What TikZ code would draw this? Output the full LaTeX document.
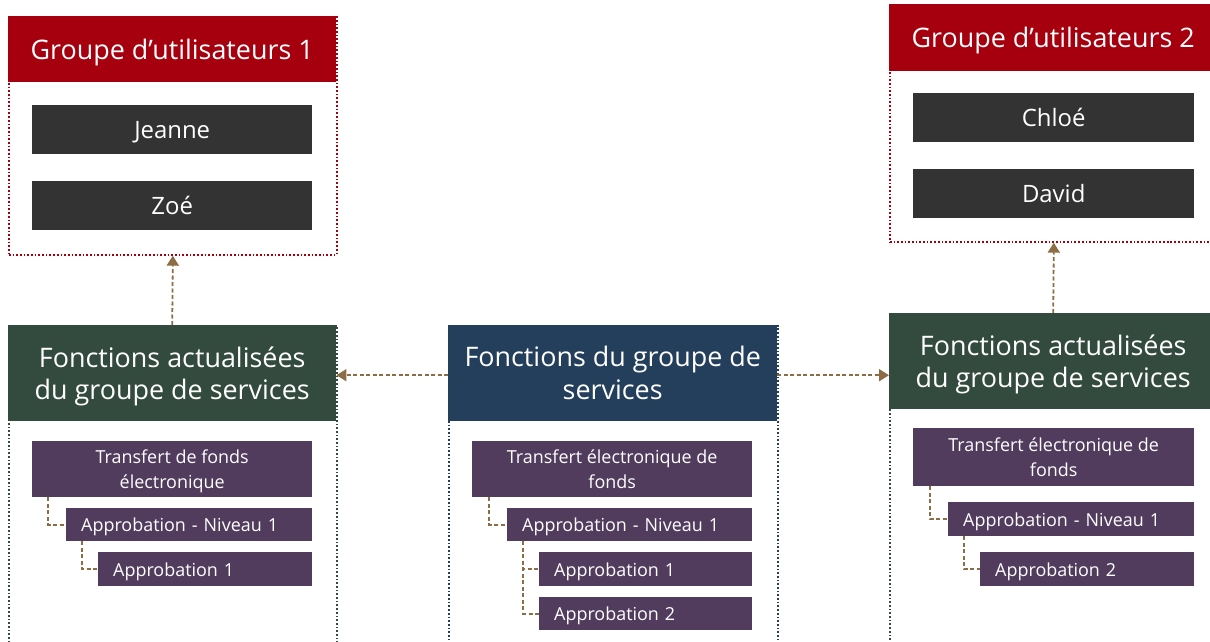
\documentclass[tikz,border=0pt]{standalone}
\usepackage{fontspec}
\setmainfont{Open Sans}
\usetikzlibrary{arrows.meta}
\definecolor{hred}{HTML}{A6000F}
\definecolor{hgreen}{HTML}{334A3E}
\definecolor{hnavy}{HTML}{243F5C}
\definecolor{dgray}{HTML}{333333}
\definecolor{purp}{HTML}{523C5E}
\definecolor{brn}{HTML}{8C6D45}
\tikzset{
  outer/.style={draw, dotted, line width=1.7bp, anchor=north west, inner sep=0pt},
  hdr/.style={anchor=north west, inner sep=0pt, text depth=0pt, text=white, align=center, font=\fontsize{27}{33}\selectfont},
  person/.style={anchor=north west, inner sep=0pt, text depth=0pt, fill=dgray, text=white, font=\fontsize{24}{28}\selectfont},
  subc/.style={anchor=north west, inner sep=0pt, text depth=0pt, fill=purp, text=white, align=center, font=\fontsize{18}{25}\selectfont},
  subl/.style={anchor=north west, inner ysep=0pt, inner xsep=15bp, text depth=0pt, fill=purp, text=white, align=left, font=\fontsize{18}{22}\selectfont},
  conn/.style={draw=brn, line width=1.8bp, dash pattern=on 4bp off 2.5bp},
  arr/.style={conn, -{Triangle[width=12bp,length=10bp]}, brn},
}
\begin{document}
\begin{tikzpicture}[x=1bp,y=-1bp]
\useasboundingbox[fill=white] (0,0) rectangle (1210,642);
% Group 1
\node[outer, draw=hred, minimum width=328bp, minimum height=238bp] (g1) at (8,16) {};
\node[hdr, fill=hred, minimum width=328bp, minimum height=66bp] (g1h) at (8,16) {Groupe d’utilisateurs 1};
\node[person, minimum width=280bp, minimum height=49bp] (jeanne) at (32,105) {Jeanne};
\node[person, minimum width=280bp, minimum height=49bp] (zoe) at (32,181) {Zoé};
% Group 2
\node[outer, draw=hred, minimum width=328bp, minimum height=237bp] (g2) at (889,4) {};
\node[hdr, fill=hred, minimum width=328bp, minimum height=67bp] (g2h) at (889,4) {Groupe d’utilisateurs 2};
\node[person, minimum width=281bp, minimum height=49bp] (chloe) at (913,93) {Chloé};
\node[person, minimum width=281bp, minimum height=49bp] (david) at (913,169) {David};
% Left functions
\node[outer, draw=hgreen, minimum width=328bp, minimum height=340bp] (fl) at (8,325) {};
\node[hdr, fill=hgreen, minimum width=328bp, minimum height=96bp] (flh) at (8,325) {Fonctions actualisées\\du groupe de services};
\node[subc, minimum width=280bp, minimum height=56bp] (flt) at (32,441) {Transfert de fonds\\électronique};
\node[subl, text width=216bp, minimum height=33bp] (fln) at (66,508) {Approbation - Niveau 1};
\node[subl, text width=184bp, minimum height=34bp] (fla) at (98,552) {Approbation 1};
% Center functions
\node[outer, draw=hnavy, minimum width=329bp, minimum height=340bp] (fc) at (448,325) {};
\node[hdr, fill=hnavy, minimum width=329bp, minimum height=96bp] (fch) at (448,325) {Fonctions du groupe de\\services};
\node[subc, minimum width=280bp, minimum height=56bp] (fct) at (472,441) {Transfert électronique de\\fonds};
\node[subl, text width=215bp, minimum height=33bp] (fcn) at (507,508) {Approbation - Niveau 1};
\node[subl, text width=183bp, minimum height=34bp] (fca) at (539,552) {Approbation 1};
\node[subl, text width=183bp, minimum height=33bp] (fcb) at (539,597) {Approbation 2};
% Right functions
\node[outer, draw=hgreen, minimum width=328bp, minimum height=360bp] (fr) at (889,313) {};
\node[hdr, fill=hgreen, minimum width=328bp, minimum height=96bp] (frh) at (889,313) {Fonctions actualisées\\du groupe de services};
\node[subc, minimum width=281bp, minimum height=58bp] (frt) at (913,428) {Transfert électronique de\\fonds};
\node[subl, text width=216bp, minimum height=34bp] (frn) at (948,502) {Approbation - Niveau 1};
\node[subl, text width=184bp, minimum height=34bp] (frb) at (980,552) {Approbation 2};
% tree connectors
\draw[conn] ([xshift=16bp]flt.south west) |- (fln.west);
\draw[conn] ([xshift=16bp]fln.south west) |- (fla.west);
\draw[conn] ([xshift=17bp]fct.south west) |- (fcn.west);
\draw[conn] ([xshift=16bp]fcn.south west) |- (fca.west);
\draw[conn] ([xshift=16bp]fcn.south west) |- (fcb.west);
\draw[conn] ([xshift=17bp]frt.south west) |- (frn.west);
\draw[conn] ([xshift=16bp]frn.south west) |- (frb.west);
% arrows
\draw[arr] ([yshift=-2bp]fch.west) -- ([yshift=-2bp]fch.west -| flh.east);
\draw[arr] ([yshift=-2bp]fch.east) -- ([yshift=-2bp]fch.east -| frh.west);
\draw[arr] (flh.north) -- (g1.south);
\draw[arr] (frh.north) -- (g2.south);
\end{tikzpicture}
\end{document}
